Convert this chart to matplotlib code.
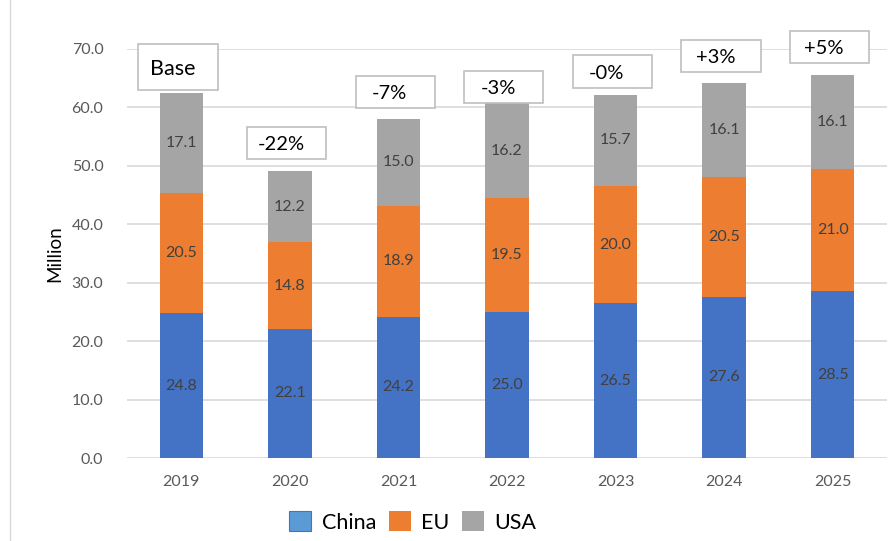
import numpy as np
import matplotlib
matplotlib.use("Agg")
from matplotlib import pyplot as plt
from matplotlib.patches import Rectangle
from matplotlib.lines import Line2D

years = ["2019", "2020", "2021", "2022", "2023", "2024", "2025"]
china = [24.8, 22.1, 24.2, 25.0, 26.5, 27.6, 28.5]
eu = [20.5, 14.8, 18.9, 19.5, 20.0, 20.5, 21.0]
usa = [17.1, 12.2, 15.0, 16.2, 15.7, 16.1, 16.1]
change = ["Base", "-22%", "-7%", "-3%", "-0%", "+3%", "+5%"]
box_gap = [0.6, 2.1, 1.8, 0.1, 1.2, 1.9, 2.0]  # space between bar top and label box

plt.rcParams['font.family'] = ['Lato', 'DejaVu Sans']

fig = plt.figure(figsize=(8.94, 5.41), dpi=100)
ax = fig.add_axes([127/894, 83/541, 760/894, 409/541])

x = np.arange(len(years))
w = 0.4
c_china, c_eu, c_usa = "#4472C4", "#ED7D31", "#A5A5A5"

ax.bar(x, china, w, color=c_china, zorder=2)
ax.bar(x, eu, w, bottom=china, color=c_eu, zorder=2)
bottom2 = np.array(china) + np.array(eu)
ax.bar(x, usa, w, bottom=bottom2, color=c_usa, zorder=2)

# data labels in the middle of each segment
for i in range(len(years)):
    ax.text(x[i], china[i] / 2, f"{china[i]:.1f}", ha="center", va="center", fontsize=11.5, color="#404040", zorder=3)
    ax.text(x[i], china[i] + eu[i] / 2, f"{eu[i]:.1f}", ha="center", va="center", fontsize=11.5, color="#404040", zorder=3)
    ax.text(x[i], bottom2[i] + usa[i] / 2, f"{usa[i]:.1f}", ha="center", va="center", fontsize=11.5, color="#404040", zorder=3)

# change boxes above bars
totals = bottom2 + np.array(usa)
bw = 0.73
for i in range(len(years)):
    h = 7.9 if i == 0 else 5.5
    y0 = totals[i] + box_gap[i]
    xc = x[i] - 0.03
    ax.add_patch(Rectangle((xc - bw / 2, y0), bw, h, facecolor="white", edgecolor="#BFBFBF", lw=1.2, zorder=4, clip_on=False))
    fs = 15.5 if i == 0 else 14.5
    ax.text(xc - 0.05, y0 + h / 2 - 0.3, change[i], ha="center", va="center", fontsize=fs, color="black", zorder=5, clip_on=False)

ax.set_xlim(-0.5, 6.5)
ax.set_ylim(0, 70)
ax.set_yticks(np.arange(0, 71, 10))
ax.set_yticklabels([f"{v:.1f}" for v in np.arange(0, 71, 10)])
ax.set_xticks(x)
ax.set_xticklabels(years)
ax.tick_params(axis="both", length=0, labelsize=11.5, labelcolor="#595959")
ax.tick_params(axis="y", pad=17)
ax.tick_params(axis="x", pad=12)
ax.grid(axis="y", color="#D9D9D9", lw=1.2, zorder=0)
for s in ax.spines.values():
    s.set_visible(False)

ax.set_ylabel("Million", fontsize=13.5, color="black", labelpad=6)

handles = [Rectangle((0, 0), 1, 1, facecolor="#5B9BD5", edgecolor="#4472C4", lw=0.8),
           Rectangle((0, 0), 1, 1, facecolor=c_eu),
           Rectangle((0, 0), 1, 1, facecolor=c_usa)]
fig.legend(handles, ["China", "EU", "USA"], loc="center", bbox_to_anchor=(413/894, 1 - 522/541),
           ncol=3, frameon=False, fontsize=15.5, handlelength=1.0, handleheight=1.0,
           handletextpad=0.5, columnspacing=0.6)

fig.add_artist(Line2D([10/894, 10/894], [0, 1], transform=fig.transFigure, color="#D9D9D9", lw=1))

fig.savefig("out.png", dpi=100)
